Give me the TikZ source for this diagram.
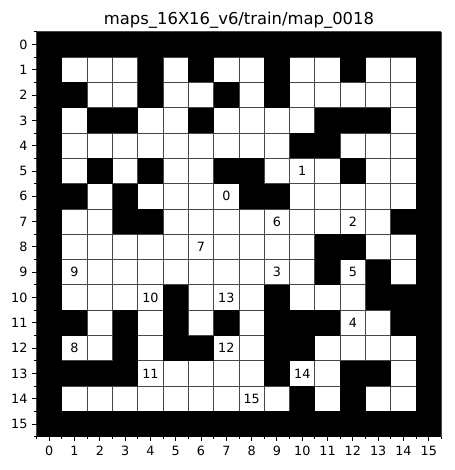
\documentclass[tikz,border=0pt]{standalone}
\usepackage{fontspec}
\setmainfont{DejaVu Sans}
\begin{document}
\begin{tikzpicture}[x=1pt,y=-1pt,
  blk/.style={fill=black},
  gridline/.style={draw=black!72, line width=0.9pt},
  tickline/.style={draw=black, line width=1pt},
  ticklabel/.style={inner sep=0pt, font=\fontsize{12.75}{14}\selectfont},
  celllabel/.style={inner sep=0pt, font=\fontsize{12.75}{14}\selectfont},
  titlestyle/.style={inner sep=0pt, anchor=base, font=\fontsize{16.4}{18}\selectfont}]
\useasboundingbox (0,0) rectangle (454,470);
\def\X{36.6}
\def\Y{31.9}
\def\S{25.3}
% white background of the map
\fill[white] (\X,\Y) rectangle ({\X+16*\S},{\Y+16*\S});
% grid lines
\foreach \i in {0,...,16} {
  \draw[gridline] ({\X+\i*\S},\Y) -- ({\X+\i*\S},{\Y+16*\S});
  \draw[gridline] (\X,{\Y+\i*\S}) -- ({\X+16*\S},{\Y+\i*\S});
}
% black cells
\foreach \r/\cols in {
  0/{0,...,15},
  1/{0,4,6,9,12,15},
  2/{0,1,4,7,9,15},
  3/{0,2,3,6,11,12,13,15},
  4/{0,10,11,15},
  5/{0,2,4,7,8,12,15},
  6/{0,1,3,8,9,15},
  7/{0,3,4,14,15},
  8/{0,11,12,15},
  9/{0,11,13,15},
  10/{0,5,9,13,14,15},
  11/{0,1,3,5,7,9,10,11,14,15},
  12/{0,3,5,6,9,10,15},
  13/{0,1,2,3,9,12,13,15},
  14/{0,10,12,15},
  15/{0,...,15}} {
  \foreach \c in \cols {
    \fill[blk] ({\X+\c*\S},{\Y+\r*\S}) rectangle ({\X+(\c+1)*\S},{\Y+(\r+1)*\S});
  }
}
% cell labels
\foreach \c/\r/\t in {7/6/0, 10/5/1, 12/7/2, 9/9/3, 12/11/4, 12/9/5, 9/7/6, 6/8/7,
  1/12/8, 1/9/9, 4/10/10, 4/13/11, 7/12/12, 7/10/13, 10/13/14, 8/14/15} {
  \node[celllabel] (lab\t) at ({\X+(\c+0.5)*\S},{\Y+(\r+0.5)*\S}) {\t};
}
% ticks
\foreach \i in {0,...,15} {
  \draw[tickline] (\X,{\Y+(\i+0.5)*\S}) -- ++(-4.5,0);
  \draw[tickline] ({\X+(\i+0.5)*\S},{\Y+16*\S}) -- ++(0,4.5);
  \node[ticklabel, anchor=east] (yl\i) at ({\X-9},{\Y+(\i+0.5)*\S}) {\i};
  \node[ticklabel, anchor=north] (xl\i) at ({\X+(\i+0.5)*\S},{\Y+16*\S+9}) {\i};
}
\foreach \i in {0,...,16} {
  \draw[tickline] (\X,{\Y+\i*\S}) -- ++(-2.55,0);
  \draw[tickline] ({\X+\i*\S},{\Y+16*\S}) -- ++(0,2.55);
}
% title
\node[titlestyle] (title) at ({\X+8*\S},24.5) {maps\_16X16\_v6/train/map\_0018};
\end{tikzpicture}
\end{document}
